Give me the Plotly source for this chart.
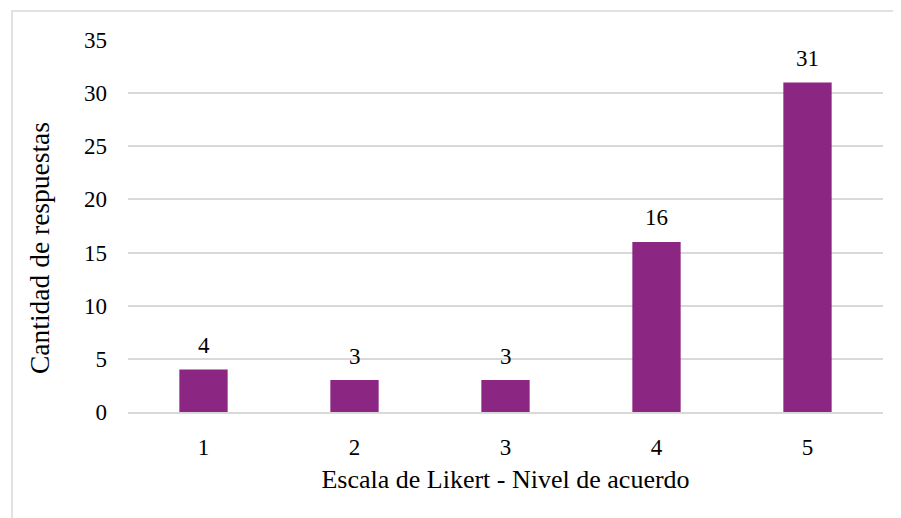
import plotly.graph_objects as go

categories = ["1", "2", "3", "4", "5"]
values = [4, 3, 3, 16, 31]
y_ticks = [0, 5, 10, 15, 20, 25, 30, 35]

FONT = "Liberation Serif, Times New Roman, serif"
BAR = "#8B2782"

# page body has an 8px offset; figure sized to fit the window
W, H = 893, 510
L, R, T, B = 120, 18, 32, 106
pw, ph = W - L - R, H - T - B

fig = go.Figure()
fig.add_trace(go.Bar(x=categories, y=values, marker=dict(color=BAR, line=dict(width=0)),
                     width=0.32, hoverinfo="x+y"))

for i, v in enumerate(values):
    fig.add_annotation(x=i, y=v, text=str(v), showarrow=False, yanchor="middle", yshift=24,
                       font=dict(family=FONT, size=23, color="#000"))

# y-axis title (placed as annotation to match reference position)
fig.add_annotation(xref="paper", yref="paper", x=(32 - L) / pw, y=(H - B - 240) / ph,
                   text="Cantidad de respuestas", textangle=-90, showarrow=False,
                   xanchor="center", yanchor="middle",
                   font=dict(family=FONT, size=27.5, color="#000"))

# outer frame
fig.add_shape(type="rect", xref="paper", yref="paper",
              x0=(4 - L) / pw, x1=(920 - L) / pw,
              y0=(H - B - 540) / ph, y1=(H - B - 3) / ph,
              line=dict(color="#d9d9d9", width=1.5), fillcolor="rgba(0,0,0,0)", layer="below")

fig.update_layout(
    width=W, height=H,
    margin=dict(l=L, r=R, t=T, b=B),
    plot_bgcolor="white", paper_bgcolor="white",
    font=dict(family=FONT, size=23, color="#000"),
    showlegend=False,
    xaxis=dict(type="category", range=[-0.5, 4.5], showgrid=False, showline=True,
               linecolor="#d9d9d9", linewidth=1.5, automargin=False,
               ticks="", ticklabelstandoff=14,
               title=dict(text="Escala de Likert - Nivel de acuerdo", standoff=10,
                          font=dict(family=FONT, size=26))),
    yaxis=dict(range=[0, 35], tickvals=y_ticks, showgrid=True, gridcolor="#d9d9d9", gridwidth=1.5,
               zeroline=False, showline=False, ticks="", ticklabelstandoff=20, automargin=False),
)

fig.write_html("out.html")
